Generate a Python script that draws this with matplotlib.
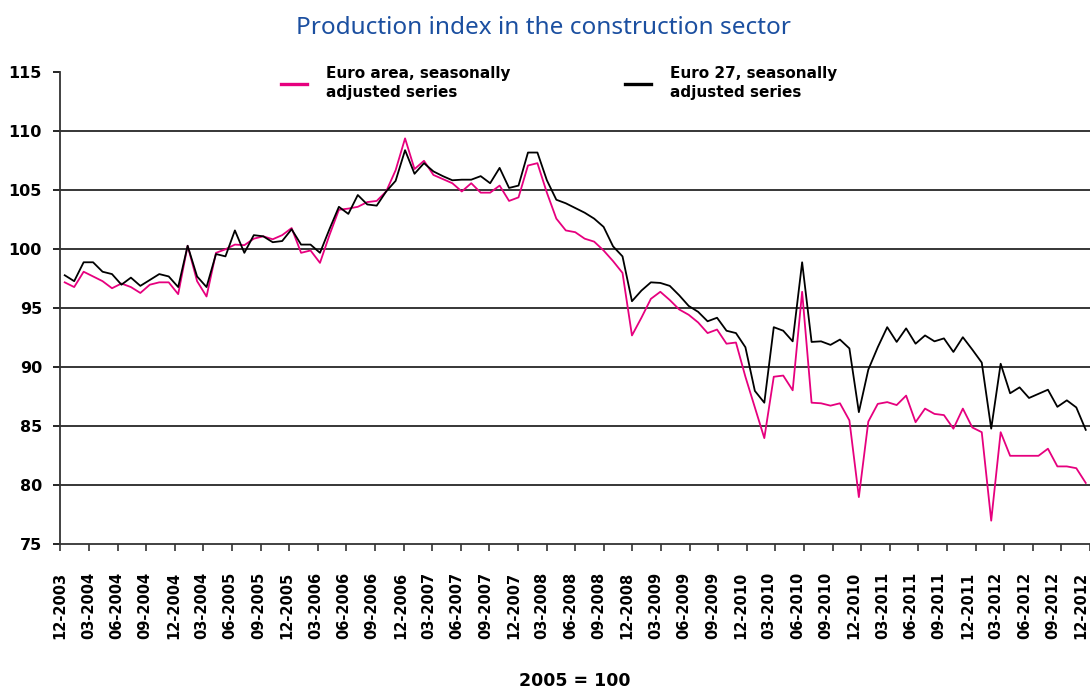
import numpy as np
import matplotlib
matplotlib.use("Agg")
import matplotlib.pyplot as plt

# ---------------- data (monthly, 12-2003 ... 12-2012) ----------------
euro_area = [
    97.2, 96.8, 98.1, 97.7, 97.3, 96.7, 97.1, 96.8, 96.3, 97.0,
    97.2, 97.2, 96.2, 100.3, 97.3, 96.0, 99.7, 100.0, 100.4, 100.35,
    100.9, 101.1, 100.85, 101.2, 101.8, 99.7, 99.9, 98.85, 101.2, 103.35,
    103.45, 103.6, 104.0, 104.1, 104.9, 106.7, 109.4, 106.8, 107.5, 106.3,
    105.95, 105.6, 104.9, 105.6, 104.8, 104.8, 105.4, 104.1, 104.4, 107.1,
    107.3, 104.8, 102.6, 101.6, 101.45, 100.9, 100.65, 99.9, 99.0, 98.0,
    92.7, 94.2, 95.8, 96.4, 95.7, 94.9, 94.45, 93.8, 92.9, 93.2,
    92.0, 92.1, 89.2, 86.6, 84.0, 89.2, 89.3, 88.05, 96.4, 87.0,
    86.95, 86.75, 86.95, 85.5, 79.0, 85.4, 86.9, 87.05, 86.8, 87.6,
    85.35, 86.5, 86.05, 85.95, 84.8, 86.5, 84.9, 84.5, 77.0, 84.5,
    82.5, 82.5, 82.5, 82.5, 83.1, 81.6, 81.6, 81.45, 80.2,
]
eu27 = [
    97.8, 97.3, 98.9, 98.9, 98.1, 97.9, 97.0, 97.6, 96.9, 97.4,
    97.9, 97.7, 96.8, 100.3, 97.7, 96.8, 99.6, 99.4, 101.6, 99.7,
    101.2, 101.1, 100.6, 100.7, 101.7, 100.4, 100.4, 99.7, 101.7, 103.6,
    103.0, 104.6, 103.8, 103.7, 104.9, 105.8, 108.4, 106.4, 107.3, 106.6,
    106.2, 105.85, 105.9, 105.9, 106.2, 105.6, 106.9, 105.2, 105.4, 108.2,
    108.2, 105.85, 104.2, 103.9, 103.5, 103.1, 102.6, 101.9, 100.25, 99.4,
    95.6, 96.5, 97.2, 97.15, 96.9, 96.1, 95.2, 94.7, 93.9, 94.2,
    93.1, 92.9, 91.7, 88.0, 87.0, 93.4, 93.1, 92.2, 98.9, 92.15,
    92.2, 91.9, 92.35, 91.6, 86.2, 89.8, 91.7, 93.4, 92.15, 93.3,
    92.0, 92.7, 92.2, 92.45, 91.3, 92.55, 91.5, 90.4, 84.8, 90.3,
    87.8, 88.3, 87.4, 87.75, 88.1, 86.65, 87.2, 86.6, 84.7,
]
# tick labels exactly as printed on the original chart
tick_labels = [
    "12-2003", "03-2004", "06-2004", "09-2004", "12-2004", "03-2004",
    "06-2005", "09-2005", "12-2005", "03-2006", "06-2006", "09-2006",
    "12-2006", "03-2007", "06-2007", "09-2007", "12-2007", "03-2008",
    "06-2008", "09-2008", "12-2008", "03-2009", "06-2009", "09-2009",
    "12-2010", "03-2010", "06-2010", "09-2010", "12-2010", "03-2011",
    "06-2011", "09-2011", "12-2011", "03-2012", "06-2012", "09-2012",
    "12-2012",
]
series_names = ["Euro area, seasonally\nadjusted series",
                "Euro 27, seasonally\nadjusted series"]
title = "Production index in the construction sector"
base_note = "2005 = 100"

# ---------------- figure ----------------
W, H = 1090, 688
fig = plt.figure(figsize=(W / 100, H / 100), dpi=100)
fig.patch.set_facecolor("white")

px_left, px_right, px_top, px_bottom = 60, 1090, 72.3, 544.3
ax = fig.add_axes([px_left / W, 1 - px_bottom / H,
                   (px_right - px_left) / W, (px_bottom - px_top) / H])

x = np.arange(len(euro_area))
pink = "#E6007E"
l1, = ax.plot(x, euro_area, color=pink, lw=1.3, label=series_names[0])
l2, = ax.plot(x, eu27, color="black", lw=1.3, label=series_names[1])

ax.set_xlim(-0.45, 107.97)
ax.set_ylim(75, 115)

# y axis
ax.set_yticks(np.arange(75, 116, 5))
ax.tick_params(axis="y", direction="out", length=5, width=1.2, pad=8,
               labelsize=11.5, colors="black")
for lab in ax.get_yticklabels():
    lab.set_fontweight("bold")
ax.yaxis.grid(True, color="black", lw=1.1)
ygl = ax.get_ygridlines()
ygl[0].set_visible(False)
ygl[-1].set_visible(False)
ax.set_axisbelow(True)

# x axis: labels on category boundaries, tick marks slightly spaced differently
label_pos = np.arange(len(tick_labels)) * 3 - 0.5
ax.set_xticks(label_pos)
ax.set_xticklabels(tick_labels, rotation=90, fontweight="bold", fontsize=10.5,
                   va="top", ha="center")
ax.tick_params(axis="x", which="major", length=0, pad=20)
mark_pos = np.arange(len(tick_labels)) * 3.025 - 0.45
ax.set_xticks(mark_pos, minor=True)
ax.tick_params(axis="x", which="minor", direction="out", length=5, width=1.2,
               color="#333333")

for s in ("top", "right"):
    ax.spines[s].set_visible(False)
for s in ("left", "bottom"):
    ax.spines[s].set_color("#333333")
    ax.spines[s].set_linewidth(1.3)

# legend
leg = ax.legend(handles=[l1, l2], ncol=2, loc="upper left",
                bbox_to_anchor=(276 / W, 1 - 61 / H), bbox_transform=fig.transFigure,
                frameon=False, prop={"weight": "bold", "size": 11},
                handlelength=1.75, handletextpad=1.2, columnspacing=7.5,
                borderaxespad=0, borderpad=0.3)
for h in leg.legend_handles:
    h.set_linewidth(2.4)
for t in leg.get_texts():
    t.set_linespacing(1.4)

fig.text(543 / W, 1 - 28 / H, title, ha="center", va="center",
         fontsize=17.5, color="#1B4FA0", family="Noto Sans", fontweight="medium")
fig.text(575 / W, 1 - 672 / H, base_note, ha="center", va="top",
         fontsize=12.5, fontweight="bold")

fig.savefig("out.png", dpi=100)
